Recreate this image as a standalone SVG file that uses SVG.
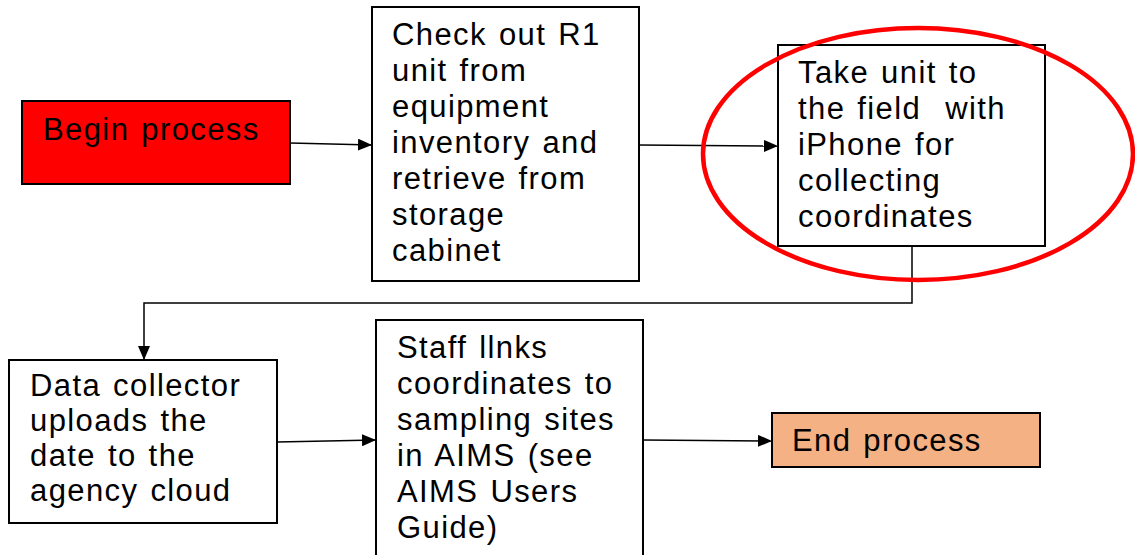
<svg xmlns="http://www.w3.org/2000/svg" width="1135" height="555" viewBox="0 0 1135 555">
<defs>
<marker id="ah" markerWidth="14" markerHeight="12" refX="14" refY="6" orient="auto" markerUnits="userSpaceOnUse">
<path d="M0,0 L14,6 L0,12 Z" fill="#000"/>
</marker>
<style>
.box{stroke:#000;stroke-width:2;fill:#fff}
.t{font-family:"Liberation Sans",Arial,sans-serif;font-size:31px;fill:#000;letter-spacing:1.4px;word-spacing:2px}
.c{stroke:#000;stroke-width:1.5;fill:none;marker-end:url(#ah)}
</style>
</defs>
<rect width="1135" height="555" fill="#fff"/>
<g id="connectors">
<path class="c" d="M290,143 L372,145"/>
<path class="c" d="M639,145 L778,146"/>
<path class="c" d="M912,246 V303 H144 V360"/>
<path class="c" d="M277,442 L376,440"/>
<path class="c" d="M643,440 L772,441"/>
</g>
<g id="begin">
<rect class="box" x="22" y="101" width="268" height="83" style="fill:#ff0000"/>
<text class="t" x="43" y="140">Begin process</text>
</g>
<g id="checkout">
<rect class="box" x="372" y="7" width="267" height="274"/>
<text class="t" x="392" y="45">Check out R1</text>
<text class="t" x="392" y="81">unit from</text>
<text class="t" x="392" y="117">equipment</text>
<text class="t" x="392" y="153">inventory and</text>
<text class="t" x="392" y="189">retrieve from</text>
<text class="t" x="392" y="225">storage</text>
<text class="t" x="392" y="261">cabinet</text>
</g>
<g id="field">
<rect class="box" x="778" y="45" width="267" height="201"/>
<text class="t" x="798" y="83">Take unit to</text>
<text class="t" x="798" y="119" xml:space="preserve">the field  with</text>
<text class="t" x="798" y="155">iPhone for</text>
<text class="t" x="798" y="191">collecting</text>
<text class="t" x="798" y="227">coordinates</text>
</g>
<ellipse id="highlight" cx="918" cy="154" rx="215" ry="126" fill="none" stroke="#ff0000" stroke-width="4.5"/>
<g id="upload">
<rect class="box" x="9" y="360" width="268" height="163"/>
<text class="t" x="30" y="396">Data collector</text>
<text class="t" x="30" y="431">uploads the</text>
<text class="t" x="30" y="466">date to the</text>
<text class="t" x="30" y="501">agency cloud</text>
</g>
<g id="staff">
<rect class="box" x="376" y="320" width="267" height="245"/>
<text class="t" x="397" y="358">Staff llnks</text>
<text class="t" x="397" y="394">coordinates to</text>
<text class="t" x="397" y="430">sampling sites</text>
<text class="t" x="397" y="466">in AIMS (see</text>
<text class="t" x="397" y="502">AIMS Users</text>
<text class="t" x="397" y="538">Guide)</text>
</g>
<g id="end">
<rect class="box" x="772" y="413" width="268" height="54" style="fill:#f4b183"/>
<text class="t" x="792" y="451">End process</text>
</g>
</svg>
